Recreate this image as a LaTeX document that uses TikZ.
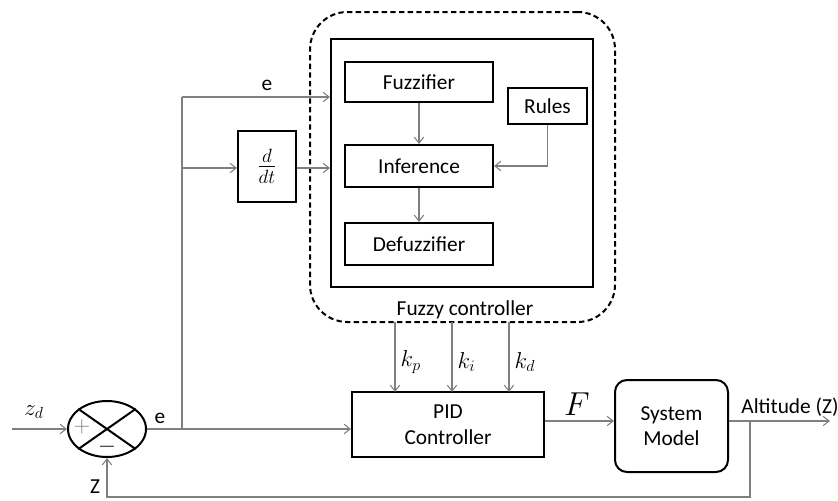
\documentclass[tikz,border=0pt]{standalone}
\usepackage{amsmath, amssymb}
\usepackage{fontspec}
\setmainfont{Carlito}
\usepackage{tikz}
\usepackage{xcolor}
\usetikzlibrary{
  positioning, arrows.meta, shapes.geometric, calc,
}
\definecolor{cWire}        {HTML}{7F7F7F}
\definecolor{cBorder}      {HTML}{000000}

\begin{document}
\begin{tikzpicture}[x=0.75pt, y=-0.75pt,
    every node/.style={font=\fontsize{16}{20}\selectfont},
    blk/.style={draw=cBorder, line width=1.5pt, inner sep=0pt, align=center},
    sig/.style={-{Straight Barb[length=4.5pt,width=7pt]}, draw=cWire, line width=0.8pt},
    wire/.style={draw=cWire, line width=0.8pt},
    mlbl/.style={font=\fontsize{17.28}{20}\selectfont},
  ]
  \useasboundingbox (0,0) rectangle (838,500);

  % fuzzy part
  \node[blk, dashed, dash pattern=on 4pt off 2.5pt, rounded corners=28pt,
        minimum width=228.75pt, minimum height=232.5pt] (fuzzyBox) at (462.5,167) {};
  \node[blk, minimum width=196.5pt, minimum height=186pt] (inner) at (462,163) {};
  \node[blk, minimum width=111pt, minimum height=30pt] (fuzzifier) at (419,82) {Fuzzifier};
  \node[blk, minimum width=111pt, minimum height=31.5pt] (inference) at (419,166) {Inference};
  \node[blk, minimum width=111pt, minimum height=31.5pt] (defuzzifier) at (419,244) {Defuzzifier};
  \node[blk, minimum width=59.25pt, minimum height=27pt] (rules) at (547.5,106) {Rules};
  \node (fuzzyLbl) at (465,310) {Fuzzy controller};

  \draw[sig] (fuzzifier) -- (inference);
  \draw[sig] (inference) -- (defuzzifier);
  \draw[sig] (rules.south) |- (inference.east);

  % loop
  \node[draw=cBorder, line width=1.5pt, ellipse, inner sep=0pt,
        minimum width=58.5pt, minimum height=42pt] (sum) at (107,429) {};
  \draw[line width=1.5pt] (sum.35) -- (sum.215);
  \draw[line width=1.5pt] (sum.145) -- (sum.325);
  \node[text=cWire] (plus) at (82,427) {$+$};
  \node (minus) at (107,447) {$-$};

  \node[blk, minimum width=43.5pt, minimum height=53.25pt,
        font=\fontsize{20.74}{24}\selectfont] (ddt) at (267,166.5) {$\frac{d}{dt}$};
  \node[blk, minimum width=144pt, minimum height=48.75pt, text depth=0pt] (pid) at (448,424.5) {PID\\[-1pt]Controller};
  \node[blk, rounded corners=9pt, minimum width=84.75pt, minimum height=69pt] (sys) at (671.5,426) {System\\[-1pt]Model};

  \coordinate (zin) at (12,429);
  \coordinate (br) at (182,429);
  \coordinate (fy) at (0,421);
  \coordinate (fb) at (750,421);
  \coordinate (zout) at (830,421);
  \coordinate (ey) at (0,97);
  \coordinate (dy) at (0,168);
  \coordinate (low) at (0,497);

  \draw[sig] (zin) -- (sum.west);
  \draw[sig] (sum.east) -- (pid.west |- sum.east);
  \draw[wire] (br) -- (br |- ey);
  \draw[sig] (br |- ey) -- (inner.west |- ey);
  \draw[sig] (br |- dy) -- (ddt.west |- dy);
  \draw[sig] (ddt.east |- dy) -- (inner.west |- dy);
  \draw[sig] (pid.east |- fy) -- (sys.west |- fy);
  \draw[sig] (sys.east |- fy) -- (zout);
  \draw[sig] (fb) |- (sum.south |- low) -- (sum.south);

  \foreach \kx/\kname in {395/k_p, 452/k_i, 509/k_d} {
    \draw[sig] (\kx,322) -- (\kx,392);
    \node[mlbl, anchor=west] at (\kx+1,362) {$\kname$};
  }

  % labels
  \node[mlbl] (zdLbl) at (34,412) {$z_d$};
  \node (eLbl) at (160,418) {e};
  \node (eTop) at (267,85) {e};
  \node[font=\fontsize{24.88}{28}\selectfont] (fLbl) at (577,404) {$F$};
  \node (zLbl) at (95,487) {Z};
  \node (altLbl) at (790,407) {Altitude (Z)};
\end{tikzpicture}
\end{document}
